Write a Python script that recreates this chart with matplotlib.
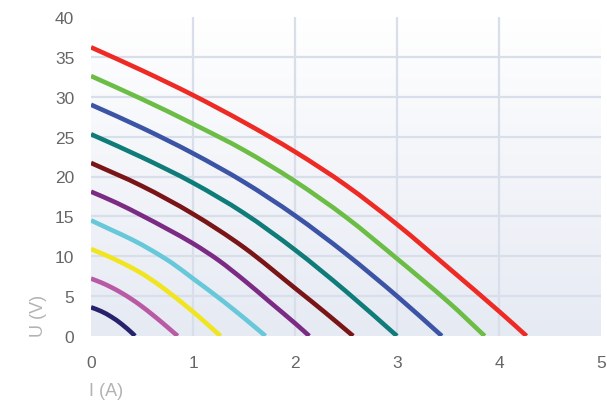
import matplotlib
matplotlib.use("Agg")
import matplotlib.pyplot as plt
from matplotlib.path import Path
from matplotlib.patches import PathPatch
import numpy as np

# ---- data ----
I_red = [0, 0.5, 1.0, 1.5, 2.0, 2.5, 3.0, 3.5, 4.0, 4.27]
U_red = [36.2, 33.3, 30.2, 26.8, 23.1, 18.9, 14.0, 8.6, 3.1, 0]

I_green = [0, 0.5, 1.0, 1.5, 2.0, 2.5, 3.0, 3.5, 3.86]
U_green = [32.6, 29.7, 26.6, 23.3, 19.4, 14.9, 9.7, 4.3, 0]

I_blue = [0, 0.5, 1.0, 1.5, 2.0, 2.5, 3.0, 3.44]
U_blue = [29.0, 26.1, 22.9, 19.3, 15.1, 10.3, 5.0, 0]

I_teal = [0, 0.5, 1.0, 1.5, 2.0, 2.5, 3.0]
U_teal = [25.3, 22.4, 19.2, 15.4, 10.8, 5.6, 0]

I_darkred = [0, 0.5, 1.0, 1.5, 2.0, 2.3, 2.57]
U_darkred = [21.7, 18.8, 15.3, 11.1, 6.0, 2.9, 0]

I_purple = [0, 0.25, 0.5, 0.75, 1.0, 1.25, 1.5, 1.75, 2.0, 2.14]
U_purple = [18.1, 16.7, 15.1, 13.4, 11.6, 9.5, 7.0, 4.3, 1.6, 0]

I_lightblue = [0, 0.2, 0.4, 0.6, 0.8, 1.0, 1.2, 1.4, 1.6, 1.71]
U_lightblue = [14.5, 13.3, 12.1, 10.7, 9.1, 7.2, 5.3, 3.3, 1.2, 0]

I_yellow = [0, 0.15, 0.3, 0.45, 0.6, 0.75, 0.9, 1.05, 1.2, 1.27]
U_yellow = [10.9, 10.1, 9.2, 8.2, 7.0, 5.6, 4.1, 2.5, 0.8, 0]

I_pink = [0, 0.1, 0.2, 0.3, 0.4, 0.5, 0.6, 0.7, 0.8, 0.85]
U_pink = [7.2, 6.7, 6.1, 5.4, 4.6, 3.7, 2.7, 1.65, 0.55, 0]

I_navy = [0, 0.1, 0.2, 0.3, 0.4, 0.43]
U_navy = [3.6, 3.1, 2.4, 1.5, 0.4, 0]

series = [
    (I_red, U_red, "#ee2a24"),
    (I_green, U_green, "#6cbd45"),
    (I_blue, U_blue, "#3b54a5"),
    (I_teal, U_teal, "#0f7c79"),
    (I_darkred, U_darkred, "#7a1517"),
    (I_purple, U_purple, "#7c2b84"),
    (I_lightblue, U_lightblue, "#66c8d9"),
    (I_yellow, U_yellow, "#f0e51f"),
    (I_pink, U_pink, "#b85ba4"),
    (I_navy, U_navy, "#26236c"),
]

x_ticks = [0, 1, 2, 3, 4, 5]
y_ticks = [0, 5, 10, 15, 20, 25, 30, 35, 40]
x_label = "I (A)"
y_label = "U (V)"


def smooth_path(xs, ys):
    """Cubic Bezier path passing through the given data points (Catmull-Rom)."""
    p = np.column_stack([xs, ys]).astype(float)
    n = len(p)
    verts = [p[0]]
    codes = [Path.MOVETO]
    for i in range(n - 1):
        p1 = p[i]
        p2 = p[i + 1]
        p0 = p[i - 1] if i > 0 else 2 * p1 - p2
        p3 = p[i + 2] if i + 2 < n else 2 * p2 - p1
        c1 = p1 + (p2 - p0) / 6.0
        c2 = p2 - (p3 - p1) / 6.0
        verts += [c1, c2, p2]
        codes += [Path.CURVE4] * 3
    return Path(verts, codes)


plt.rcParams['font.family'] = ['Liberation Sans', 'DejaVu Sans']

fig = plt.figure(figsize=(6.07, 4.06), dpi=100)
ax = fig.add_axes([91/607, 1-337/406, 510/607, 319/406])
ax.set_xlim(0, 5)
ax.set_ylim(0, 40)

# gradient background
grad = np.linspace(0, 1, 256).reshape(-1, 1)
top = np.array([1.0, 1.0, 1.0])
bot = np.array([0xe6, 0xea, 0xf3]) / 255.0
img = top[None, None, :] * (1 - grad[:, :, None]) + bot[None, None, :] * grad[:, :, None]
ax.imshow(img, extent=[0, 1, 0, 1], transform=ax.transAxes, aspect='auto', zorder=0)

grid_c = "#d8deea"
for xv in x_ticks[1:-1]:
    ax.axvline(xv, color=grid_c, lw=1.6, zorder=1)
for yv in y_ticks[1:-1]:
    ax.axhline(yv, color=grid_c, lw=1.6, zorder=1)

for I, U, c in series:
    patch = PathPatch(smooth_path(I, U), facecolor='none', edgecolor=c,
                      lw=3.3, capstyle='butt', joinstyle='round', zorder=3)
    ax.add_patch(patch)

for s in ax.spines.values():
    s.set_visible(False)
ax.set_xticks(x_ticks)
ax.set_yticks(y_ticks)
ax.tick_params(length=0, labelsize=12.5, labelcolor="#666666")
ax.tick_params(axis='x', pad=14)
ax.tick_params(axis='y', pad=12)

fig.text(30/607, 1-337/406, y_label, rotation=90, ha='left', va='bottom',
         fontsize=13, color="#b3b3b3")
fig.text(89/607, 1-392/406, x_label, ha='left', va='center',
         fontsize=13, color="#b3b3b3")

fig.savefig("out.png", dpi=100)
